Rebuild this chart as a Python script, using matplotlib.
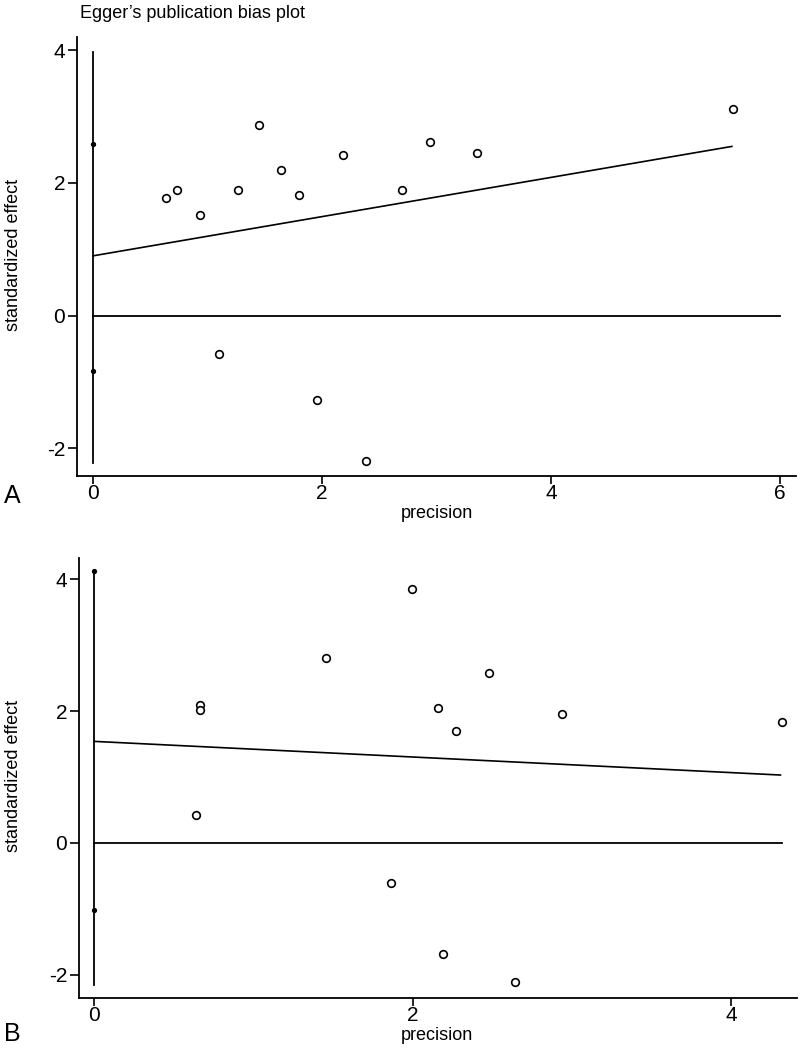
import matplotlib
matplotlib.use("Agg")
import matplotlib.pyplot as plt

plt.rcParams['font.family'] = ['Liberation Sans', 'DejaVu Sans']
plt.rcParams['axes.unicode_minus'] = False

# panel A - circles (precision, standardized effect)
a_prec = [0.635, 0.73, 0.93, 1.10, 1.27, 1.45, 1.64, 1.80, 1.96, 2.18, 2.38, 2.70, 2.94, 3.35, 5.59]
a_eff = [1.77, 1.90, 1.52, -0.58, 1.90, 2.87, 2.20, 1.81, -1.27, 2.42, -2.20, 1.90, 2.62, 2.45, 3.11]
a_ci = [-2.23, 3.97]          # vertical line at precision 0
a_dots = [2.59, -0.83]        # small markers at precision 0
a_fit_x = [0, 5.58]
a_fit_y = [0.90, 2.55]
a_zero_end = 6.0

# panel B
b_prec = [0.664, 0.664, 0.64, 1.456, 1.865, 1.995, 2.16, 2.19, 2.27, 2.48, 2.64, 2.94, 4.32]
b_eff = [2.09, 2.01, 0.43, 2.80, -0.60, 3.85, 2.04, -1.68, 1.70, 2.58, -2.11, 1.95, 1.83]
b_ci = [-2.15, 4.12]
b_dots = [4.12, -1.02]
b_fit_x = [0, 4.31]
b_fit_y = [1.54, 1.03]
b_zero_end = 4.32

fig = plt.figure(figsize=(8, 10.49), dpi=100)
W, H = 800, 1049


def make_ax(l, r, t, b):
    return fig.add_axes([l / W, (H - b) / H, (r - l) / W, (b - t) / H])


def draw(ax, prec, eff, ci, dots, fx, fy, zend, xlim, ylim, xticks):
    ax.plot([0, 0], ci, color='black', lw=1.3)
    ax.plot([0, zend], [0, 0], color='black', lw=1.3)
    ax.plot(fx, fy, color='black', lw=1.2)
    ax.plot(prec, eff, 'o', mfc='white', mec='black', ms=5.5, mew=1.2, ls='none')
    ax.plot([0] * len(dots), dots, 'o', mfc='black', mec='black', ms=2.8, mew=1.0, ls='none')
    ax.set_xlim(xlim)
    ax.set_ylim(ylim)
    ax.set_xticks(xticks)
    ax.set_yticks([-2, 0, 2, 4])
    for s in ['top', 'right']:
        ax.spines[s].set_visible(False)
    for s in ['left', 'bottom']:
        ax.spines[s].set_linewidth(1.3)
    ax.tick_params(axis='y', length=6.5, width=1.2, pad=2, labelsize=15)
    ax.tick_params(axis='x', length=5.5, width=1.2, pad=0.5, labelsize=15)


axA = make_ax(77, 796, 37, 476)
draw(axA, a_prec, a_eff, a_ci, a_dots, a_fit_x, a_fit_y, a_zero_end,
     (-0.14, 6.14), (-2.42, 4.20), [0, 2, 4, 6])

axB = make_ax(79, 797, 558, 998)
draw(axB, b_prec, b_eff, b_ci, b_dots, b_fit_x, b_fit_y, b_zero_end,
     (-0.096, 4.414), (-2.35, 4.32), [0, 2, 4])

fig.text(192 / W, 1 - 14 / H, "Egger\u2019s publication bias plot", fontsize=13,
         ha='center', va='center')
fig.text(437 / W, 1 - 514 / H, "precision", fontsize=13, ha='center', va='center')
fig.text(437 / W, 1 - 1035 / H, "precision", fontsize=13, ha='center', va='center')
fig.text(14 / W, 1 - 255 / H, "standardized effect", fontsize=13, rotation=90,
         ha='center', va='center')
fig.text(14 / W, 1 - 776 / H, "standardized effect", fontsize=13, rotation=90,
         ha='center', va='center')
fig.text(12 / W, 1 - 496 / H, "A", fontsize=18, ha='center', va='center')
fig.text(12 / W, 1 - 1034 / H, "B", fontsize=18, ha='center', va='center')

fig.savefig("out.png", dpi=100)
